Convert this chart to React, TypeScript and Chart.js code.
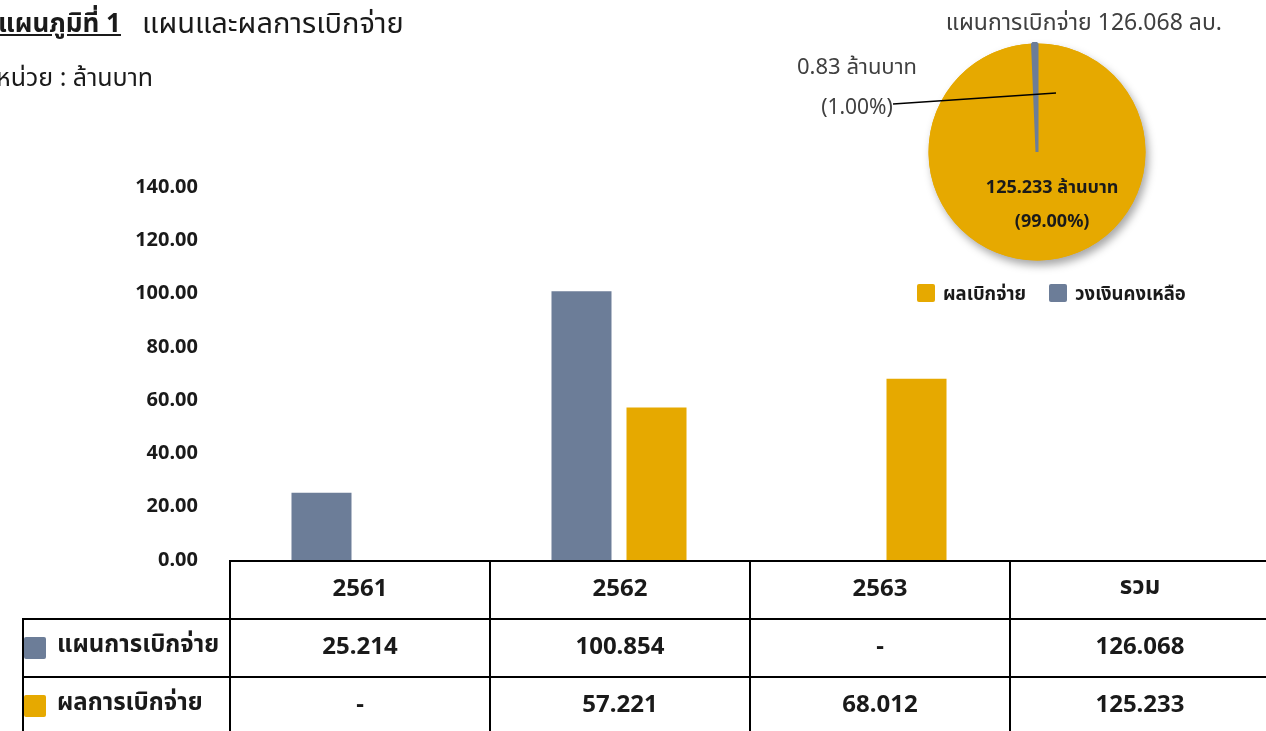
import React, { useEffect, useRef } from 'react';
import { Chart, registerables } from 'chart.js';

Chart.register(...registerables);

// ---------- data ----------
const years = ['2561', '2562', '2563'];
const totalLabel = 'รวม';
const seriesNames = ['แผนการเบิกจ่าย', 'ผลการเบิกจ่าย'];
const planByYear: (number | null)[] = [25.214, 100.854, null];
const actualByYear: (number | null)[] = [null, 57.221, 68.012];
const planTotal = 126.068;
const actualTotal = 125.233;
const yMin = 0;
const yMax = 140;
const yStep = 20;

const pieLabels = ['ผลเบิกจ่าย', 'วงเงินคงเหลือ'];
const pieValues = [125.233, 0.835];
const pieDecimals = [3, 2];
const pieTitle = 'แผนการเบิกจ่าย 126.068 ลบ.';
const unitText = 'ล้านบาท';

const chartNo = 'แผนภูมิที่ 1';
const chartTitle = 'แผนและผลการเบิกจ่าย';
const unitLine = 'หน่วย : ล้านบาท';

// ---------- style ----------
const GRAY = '#6c7d98';
const YELLOW = '#e6a900';
const FONT = "'Noto Sans', 'Noto Sans Thai', Tahoma, sans-serif";
const TXT = '#1a1a1a';

const fmt = (v: number | null) => (v === null ? '-' : v.toFixed(3));

const pieTotal = pieValues.reduce((a, b) => a + b, 0);
const pctText = (v: number) => '(' + Math.round((v / pieTotal) * 100).toFixed(2) + '%)';

const pieLabelPlugin = {
  id: 'pieLabelPlugin',
  beforeDatasetsDraw(chart: any) {
    const meta = chart.getDatasetMeta(0);
    const a0 = meta.data[0];
    if (!a0) return;
    const ctx = chart.ctx;
    ctx.save();
    ctx.shadowColor = 'rgba(0,0,0,0.35)';
    ctx.shadowBlur = 9;
    ctx.shadowOffsetX = 3;
    ctx.shadowOffsetY = 5;
    ctx.beginPath();
    ctx.arc(a0.x, a0.y, a0.outerRadius, 0, Math.PI * 2);
    ctx.fillStyle = YELLOW;
    ctx.fill();
    ctx.restore();
  },
  afterDatasetsDraw(chart: any) {
    const meta = chart.getDatasetMeta(0);
    const a0 = meta.data[0];
    const a1 = meta.data[1];
    if (!a0 || !a1) return;
    const ctx = chart.ctx;
    ctx.save();
    ctx.textAlign = 'center';
    ctx.textBaseline = 'middle';
    // inside label (big slice)
    const p = a0.tooltipPosition();
    ctx.fillStyle = TXT;
    ctx.font = `bold 18px ${FONT}`;
    ctx.fillText(pieValues[0].toFixed(pieDecimals[0]) + ' ' + unitText, p.x + 14, p.y - 18);
    ctx.fillText(pctText(pieValues[0]), p.x + 14, p.y + 16);
    // outside label (small slice)
    const cx = a1.x;
    const cy = a1.y;
    ctx.strokeStyle = '#000';
    ctx.lineWidth = 1.5;
    ctx.beginPath();
    ctx.moveTo(cx - 144, cy - 48);
    ctx.lineTo(cx + 19, cy - 59);
    ctx.stroke();
    ctx.fillStyle = '#404040';
    ctx.font = `22px ${FONT}`;
    ctx.fillText(pieValues[1].toFixed(pieDecimals[1]) + ' ' + unitText, cx - 180, cy - 84);
    ctx.font = `21px ${FONT}`;
    ctx.fillText(pctText(pieValues[1]), cx - 180, cy - 44);
    ctx.restore();
  },
};

export default function App() {
  const barRef = useRef<HTMLCanvasElement | null>(null);
  const pieRef = useRef<HTMLCanvasElement | null>(null);

  useEffect(() => {
    if (!barRef.current || !pieRef.current) return;
    const bar = new Chart(barRef.current, {
      type: 'bar',
      data: {
        labels: [...years, totalLabel],
        datasets: [
          {
            label: seriesNames[0],
            data: [...planByYear, null],
            backgroundColor: GRAY,
            categoryPercentage: 0.577,
            barPercentage: 0.8,
          },
          {
            label: seriesNames[1],
            data: [...actualByYear, null],
            backgroundColor: YELLOW,
            categoryPercentage: 0.577,
            barPercentage: 0.8,
          },
        ],
      },
      options: {
        animation: false,
        responsive: false,
        maintainAspectRatio: false,
        layout: { padding: { left: 0, top: 187, right: 31, bottom: 171 } },
        plugins: { legend: { display: false }, tooltip: { enabled: false } },
        scales: {
          x: {
            grid: { display: false, drawTicks: false },
            border: { display: false },
            ticks: { display: false },
            afterFit: (s: any) => {
              s.height = 0;
            },
          },
          y: {
            min: yMin,
            max: yMax,
            grid: { display: false, drawTicks: false },
            border: { display: false },
            ticks: {
              stepSize: yStep,
              padding: 31,
              color: TXT,
              font: { family: FONT, size: 20, weight: 'bold' },
              callback: (v: any) => Number(v).toFixed(2),
            },
            afterFit: (s: any) => {
              s.width = 229;
            },
          },
        },
      } as any,
    });

    const pie = new Chart(pieRef.current, {
      type: 'pie',
      data: {
        labels: pieLabels,
        datasets: [
          {
            data: pieValues,
            backgroundColor: [YELLOW, GRAY],
            borderColor: [YELLOW, GRAY],
            borderWidth: [0, 3],
          },
        ],
      },
      options: {
        animation: false,
        responsive: false,
        maintainAspectRatio: false,
        layout: { padding: { left: 147, right: 119, top: 42, bottom: 58 } },
        plugins: { legend: { display: false }, tooltip: { enabled: false } },
      } as any,
      plugins: [pieLabelPlugin],
    });

    return () => {
      bar.destroy();
      pie.destroy();
    };
  }, []);

  const cellBorder = '2px solid #000';
  const tdBase: React.CSSProperties = {
    border: cellBorder,
    textAlign: 'center',
    verticalAlign: 'middle',
    fontWeight: 'bold',
    fontSize: 24,
    color: TXT,
    padding: '0 0 7px 0',
  };
  const rows = [
    { name: seriesNames[0], color: GRAY, vals: [...planByYear, planTotal] },
    { name: seriesNames[1], color: YELLOW, vals: [...actualByYear, actualTotal] },
  ];

  return (
    <div
      style={{
        position: 'absolute',
        left: 0,
        top: 0,
        width: 1266,
        height: 731,
        overflow: 'hidden',
        background: '#fff',
        fontFamily: FONT,
      }}
    >
      <canvas
        ref={barRef}
        width={1300}
        height={731}
        style={{ position: 'absolute', left: 0, top: 0, width: 1300, height: 731 }}
      />
      <canvas
        ref={pieRef}
        width={486}
        height={320}
        style={{ position: 'absolute', left: 780, top: 0, width: 486, height: 320 }}
      />
      {/* titles */}
      <div style={{ position: 'absolute', left: -2, top: 2, fontSize: 26, color: TXT, whiteSpace: 'nowrap', lineHeight: '40px' }}>
        <span style={{ fontWeight: 'bold', textDecoration: 'underline' }}>{chartNo}</span>
      </div>
      <div style={{ position: 'absolute', left: 142, top: 2, fontSize: 29, color: TXT, whiteSpace: 'nowrap', lineHeight: '40px' }}>
        {chartTitle}
      </div>
      <div style={{ position: 'absolute', left: -4, top: 56, fontSize: 25, color: TXT, whiteSpace: 'nowrap', lineHeight: '40px' }}>
        {unitLine}
      </div>
      <div style={{ position: 'absolute', right: 44, top: 3, fontSize: 23, color: '#404040', whiteSpace: 'nowrap', lineHeight: '36px' }}>
        {pieTitle}
      </div>
      {/* pie legend */}
      <div style={{ position: 'absolute', left: 917, top: 280, display: 'flex', alignItems: 'center', whiteSpace: 'nowrap', fontWeight: 'bold', fontSize: 18.5, color: TXT, lineHeight: '26px' }}>
        {pieLabels.map((l, i) => (
          <div key={l} style={{ display: 'flex', alignItems: 'center', marginRight: 23 }}>
            <span style={{ display: 'inline-block', width: 18, height: 18, background: i === 0 ? YELLOW : GRAY, borderRadius: 2, marginRight: 8 }} />
            <span>{l}</span>
          </div>
        ))}
      </div>
      {/* data table */}
      <table
        style={{
          position: 'absolute',
          left: 22,
          top: 560,
          borderCollapse: 'collapse',
          tableLayout: 'fixed',
          width: 207 + 260 * 4,
          fontFamily: FONT,
        }}
      >
        <colgroup>
          <col style={{ width: 207 }} />
          {[...years, totalLabel].map((c) => (
            <col key={c} style={{ width: 260 }} />
          ))}
        </colgroup>
        <tbody>
          <tr style={{ height: 58 }}>
            <td style={{ ...tdBase, borderTop: 'none', borderLeft: 'none' }} />
            {[...years, totalLabel].map((c) => (
              <td key={c} style={tdBase}>
                {c}
              </td>
            ))}
          </tr>
          {rows.map((r) => (
            <tr key={r.name} style={{ height: 58 }}>
              <td style={{ ...tdBase, textAlign: 'left' }}>
                <span style={{ display: 'inline-flex', alignItems: 'center', whiteSpace: 'nowrap' }}>
                  <span style={{ display: 'inline-block', width: 22, height: 22, background: r.color, marginLeft: 0, marginRight: 11, borderRadius: 2, position: 'relative', top: 3 }} />
                  {r.name}
                </span>
              </td>
              {r.vals.map((v, i) => (
                <td key={i} style={tdBase}>
                  {fmt(v)}
                </td>
              ))}
            </tr>
          ))}
        </tbody>
      </table>
    </div>
  );
}
